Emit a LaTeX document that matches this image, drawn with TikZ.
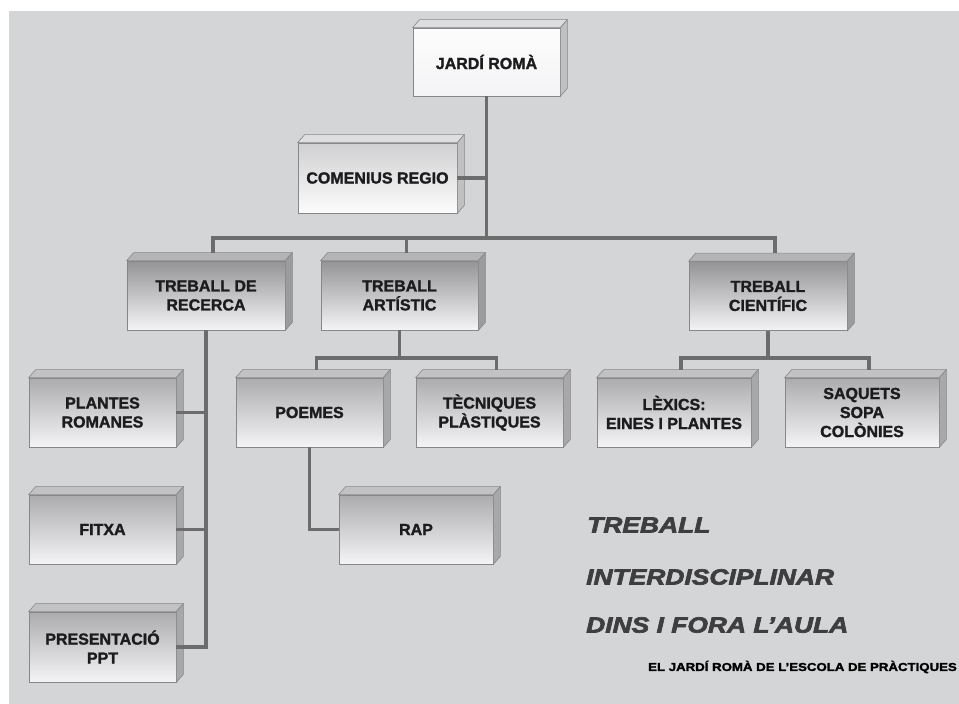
\documentclass[tikz,border=0pt]{standalone}
\usepackage{xcolor}
\usepackage{fontspec}
\setmainfont{Liberation Sans}
\newfontfamily\heavyfont[BoldFeatures={FakeBold=1.6}]{Liberation Sans}
\newfontfamily\widefont[FakeStretch=1.2, BoldItalicFeatures={FakeBold=3}]{Liberation Sans}
\newfontfamily\footfont[FakeStretch=1.15, BoldFeatures={FakeBold=2}]{Liberation Sans}
\usepackage{tikz}
\usetikzlibrary{positioning, calc}
\definecolor{bggray}{RGB}{212,213,215}
\definecolor{linegray}{RGB}{108,108,108}
\definecolor{edgegray}{RGB}{135,135,137}
\definecolor{boxtext}{RGB}{28,28,30}
\definecolor{titlegray}{RGB}{62,62,64}
\definecolor{frontdark}{RGB}{148,148,150}
\definecolor{frontmid}{RGB}{172,172,174}
\definecolor{frontpale}{RGB}{208,208,210}
\definecolor{frontwhite}{RGB}{252,252,252}
\definecolor{frontlow}{RGB}{244,244,246}
\definecolor{topdark}{RGB}{180,180,182}
\definecolor{topmid}{RGB}{194,194,196}
\definecolor{toplight}{RGB}{222,222,224}
\definecolor{sidedark}{RGB}{156,156,158}
\definecolor{sidemid}{RGB}{168,168,170}
\definecolor{sidelight}{RGB}{192,192,194}
\tikzset{
  cube/.style={rectangle, draw=edgegray, line width=0.7pt, inner sep=0pt,
    minimum height=69, align=center, text=boxtext,
    font=\heavyfont\bfseries\fontsize{16}{19}\selectfont},
  darkcube/.style={cube, top color=frontdark, middle color=frontwhite, bottom color=frontlow},
  midcube/.style={cube, top color=frontmid, middle color=frontwhite, bottom color=frontlow},
  palecube/.style={cube, top color=frontpale, middle color=frontwhite, bottom color=frontwhite},
  lightcube/.style={cube, top color=frontwhite, middle color=frontwhite, bottom color=frontlow},
  conn/.style={draw=linegray, line width=3.2pt},
  bigtitle/.style={anchor=west, inner sep=0pt, text=titlegray,
    font=\widefont\bfseries\itshape\fontsize{22}{22}\selectfont}
}

\begin{document}
\begin{tikzpicture}[x=1pt, y=-1pt]
  % Page and background
  \useasboundingbox (0,0) rectangle (959,704);
  \fill[white] (0,0) rectangle (959,704);
  \fill[bggray] (9,11) rectangle (959,704);

  % Boxes
  \node[lightcube, minimum width=147, minimum height=68] (jardi) at (486.5,62) {JARDÍ ROMÀ};
  \node[palecube, minimum width=159, minimum height=70] (comenius) at (377.5,178) {COMENIUS REGIO};
  \node[darkcube, minimum width=158] (recerca) at (206,295.5) {TREBALL DE\\RECERCA};
  \node[darkcube, minimum width=157] (artistic) at (399.5,295.5) {TREBALL\\ARTÍSTIC};
  \node[darkcube, minimum width=158] (cientific) at (768,296) {TREBALL\\CIENTÍFIC};
  \node[midcube, minimum width=147] (plantes) at (102.5,412.5) {PLANTES\\ROMANES};
  \node[midcube, minimum width=147] (fitxa) at (102.5,529.5) {FITXA};
  \node[midcube, minimum width=147, minimum height=70] (ppt) at (102.5,647) {PRESENTACIÓ\\PPT};
  \node[midcube, minimum width=147] (poemes) at (309.5,412.5) {POEMES};
  \node[midcube, minimum width=147] (tecniques) at (489.5,412.5) {TÈCNIQUES\\PLÀSTIQUES};
  \node[midcube, minimum width=154] (rap) at (416,529.5) {RAP};
  \node[midcube, minimum width=154] (lexics) at (674,412.5) {LÈXICS:\\EINES I PLANTES};
  \node[midcube, minimum width=154] (saquets) at (862,412.5) {SAQUETS\\SOPA\\COLÒNIES};

  % Box depth (top and right faces)
  \foreach \n/\tf/\sf in {jardi/toplight/sidelight, comenius/toplight/sidelight,
      recerca/topdark/sidedark, artistic/topdark/sidedark, cientific/topdark/sidedark,
      plantes/topmid/sidemid, fitxa/topmid/sidemid, ppt/topmid/sidemid,
      poemes/topmid/sidemid, tecniques/topmid/sidemid, rap/topmid/sidemid,
      lexics/topmid/sidemid, saquets/topmid/sidemid} {
    \filldraw[fill=\tf, draw=edgegray, line width=0.6pt] (\n.north west) -- ++(7,-8)
      -- ($(\n.north east)+(7,-8)$) -- (\n.north east) -- cycle;
    \filldraw[fill=\sf, draw=edgegray, line width=0.6pt] (\n.north east) -- ++(7,-8)
      -- ($(\n.south east)+(7,-8)$) -- (\n.south east) -- cycle;
    \coordinate (\n-top) at ($(\n.north)+(7,-8)$);
  }

  % Connectors
  \coordinate (bus) at (486.5,238);
  \draw[conn] (jardi.south) -- (bus);
  \draw[conn] (comenius.east) -- (comenius.east -| bus);
  \draw[conn] (recerca-top) |- (bus) -| (cientific-top);
  \draw[conn] (artistic-top) -- (artistic-top |- bus);
  \draw[conn] (recerca.south) |- (plantes.east);
  \draw[conn] (recerca.south) |- (fitxa.east);
  \draw[conn] (recerca.south) |- (ppt.east);
  \coordinate (artjoin) at (artistic.south |- 0,358);
  \draw[conn] (artistic.south) -- (artjoin);
  \draw[conn] (poemes-top) |- (artjoin) -| (tecniques-top);
  \draw[conn] (poemes.south) |- (rap.west);
  \coordinate (cienjoin) at (cientific.south |- 0,358);
  \draw[conn] (cientific.south) -- (cienjoin);
  \draw[conn] (lexics-top) |- (cienjoin) -| (saquets-top);

  % Titles
  \node[bigtitle] (title1) at (587,525) {TREBALL};
  \node[bigtitle] (title2) at (586,577) {INTERDISCIPLINAR};
  \node[bigtitle] (title3) at (586,625) {DINS I FORA L’AULA};
  \node[anchor=east, inner sep=0pt, text=black,
    font=\footfont\bfseries\fontsize{11.5}{11.5}\selectfont] (footer) at (957,667)
    {EL JARDÍ ROMÀ DE L’ESCOLA DE PRÀCTIQUES};
\end{tikzpicture}
\end{document}
